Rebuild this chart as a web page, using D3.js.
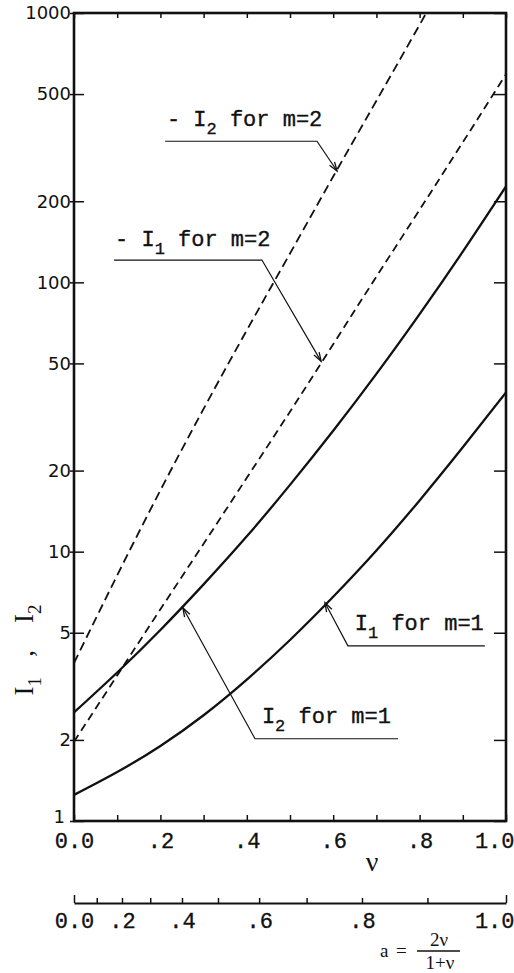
<!DOCTYPE html>
<html><head><meta charset="utf-8">
<script src="https://cdn.jsdelivr.net/npm/d3@7"></script>
<style>html,body{margin:0;padding:0;background:#fff;} svg{display:block} text{white-space:pre}</style>
</head><body>
<svg id="chart" width="514" height="973"></svg>
<script>
// ---- data ----
const nu = [0, 0.1, 0.2, 0.3, 0.4, 0.5, 0.6, 0.7, 0.8, 0.9, 1.0];
const I1_m1 = [1.25, 1.52, 1.90, 2.47, 3.35, 4.70, 6.80, 10.1, 15.5, 24.4, 39];
const I2_m1 = [2.53, 3.56, 5.12, 7.56, 11.4, 17.7, 28.1, 45.7, 76.2, 130, 227];
const negI1_m2 = [1.97, 3.47, 6.11, 10.7, 18.8, 33.1, 58.9, 105, 186, 331, 593];
const nu_negI2_m2 = [0, 0.1, 0.2, 0.3, 0.4, 0.5, 0.6, 0.7, 0.8, 0.815];
const negI2_m2 = [3.86, 8.17, 16.9, 33.9, 66.4, 128, 247, 472, 904, 1000];

const yTicks = [1, 2, 5, 10, 20, 50, 100, 200, 500, 1000];
const xTicks = [0, 0.1, 0.2, 0.3, 0.4, 0.5, 0.6, 0.7, 0.8, 0.9, 1.0];
const xLabelVals = [0, 0.2, 0.4, 0.6, 0.8, 1.0];
const xTickLabels = ["0.0", ".2", ".4", ".6", ".8", "1.0"];
const aTicks = [0, 0.1, 0.2, 0.3, 0.4, 0.5, 0.6, 0.7, 0.8, 0.9, 1.0];
const aLabelVals = [0, 0.2, 0.4, 0.6, 0.8, 1.0];
const aTickLabels = ["0.0", ".2", ".4", ".6", ".8", "1.0"];

const annotations = [
  {pre: "- I", sub: "2", post: " for m=2", at: [0.215, 380], path: [[0.211, 334], [0.5625, 334], [0.609, 259]]},
  {pre: "- I", sub: "1", post: " for m=2", at: [0.095, 136], path: [[0.0926, 121], [0.435, 121], [0.572, 50.9]]},
  {pre: "I",   sub: "1", post: " for m=1", at: [0.650, 5.13], path: [[0.951, 4.47], [0.634, 4.47], [0.581, 6.46]]},
  {pre: "I",   sub: "2", post: " for m=1", at: [0.435, 2.31], path: [[0.75, 2.02], [0.419, 2.02], [0.252, 6.19]]}
];

// ---- layout ----
const L = 74, R = 506, T = 13, B = 821;
const MONO = "'Liberation Mono','DejaVu Sans Mono',monospace";
const SERIF = "'Liberation Serif','DejaVu Serif',serif";
const SANS = "'DejaVu Sans','Liberation Sans',sans-serif";
const INK = "#111";

const svg = d3.select("#chart");
svg.append("rect").attr("width", 514).attr("height", 973).attr("fill", "#fff");

const x = d3.scaleLinear().domain([0, 1]).range([L, R]);
const y = d3.scaleLog().domain([1, 1000]).range([B, T]);

svg.append("defs").append("clipPath").attr("id", "plotclip")
  .append("rect").attr("x", L).attr("y", T).attr("width", R - L).attr("height", B - T);
const mk = svg.select("defs").append("marker")
  .attr("id", "arrow").attr("viewBox", "-10 -5 12 10")
  .attr("refX", 0).attr("refY", 0).attr("markerWidth", 12).attr("markerHeight", 10)
  .attr("markerUnits", "userSpaceOnUse").attr("orient", "auto");
mk.append("path").attr("d", "M-9,-3 L0,0 L-9,3").attr("fill", "none").attr("stroke", INK).attr("stroke-width", 1.3);

function typeText(sel, size) {
  sel.attr("font-family", MONO).attr("font-size", size).attr("fill", INK)
     .attr("stroke", INK).attr("stroke-width", 0.35);
}

// ---- axes ----
const gBottom = svg.append("g").attr("transform", `translate(0,${B})`)
  .call(d3.axisBottom(x).tickValues(xTicks).tickSizeInner(-6).tickSizeOuter(0)
    .tickFormat(v => { const i = xLabelVals.findIndex(t => Math.abs(t - v) < 1e-9); return i >= 0 ? xTickLabels[i] : ""; }));
gBottom.selectAll("text").attr("y", 27).attr("dy", 0);

const gTop = svg.append("g").attr("transform", `translate(0,${T})`)
  .call(d3.axisTop(x).tickValues(xTicks).tickSizeInner(-5).tickSizeOuter(0).tickFormat(""));

const gLeft = svg.append("g").attr("transform", `translate(${L},0)`)
  .call(d3.axisLeft(y).tickValues(yTicks).tickSizeInner(-10).tickSizeOuter(0).tickPadding(4).tickFormat(d3.format("d")));
gLeft.selectAll(".tick line").attr("x1", -4);

const gRight = svg.append("g").attr("transform", `translate(${R},0)`)
  .call(d3.axisRight(y).tickValues(yTicks).tickSizeInner(-12).tickSizeOuter(0).tickFormat(""));

[gBottom, gTop, gLeft, gRight].forEach(g => {
  g.select(".domain").remove();
  g.selectAll(".tick line").attr("stroke", INK).attr("stroke-width", 1.5);
});
typeText(gBottom.selectAll("text"), 22);
gBottom.selectAll(".tick text").filter(v => v === 1).attr("text-anchor", "end").attr("dx", 8);
gLeft.selectAll("text").attr("font-family", SANS).attr("font-size", 18).attr("fill", INK).attr("x", -3);
gLeft.selectAll(".tick text").filter(v => v === 1).attr("x", -9).attr("dy", "0.1em");

// frame
svg.append("rect").attr("x", L).attr("y", T).attr("width", R - L).attr("height", B - T)
  .attr("fill", "none").attr("stroke", INK).attr("stroke-width", 2.6);

// ---- curves ----
const line = d3.line().x(d => x(d[0])).y(d => y(d[1])).curve(d3.curveNatural);
const plot = svg.append("g").attr("clip-path", "url(#plotclip)");
const series = [
  {xs: nu, ys: I1_m1, dash: null},
  {xs: nu, ys: I2_m1, dash: null},
  {xs: nu, ys: negI1_m2, dash: "8,5"},
  {xs: nu_negI2_m2, ys: negI2_m2, dash: "9,5"}
];
series.forEach(s => {
  plot.append("path").datum(s.xs.map((v, i) => [v, s.ys[i]]))
    .attr("d", line).attr("fill", "none").attr("stroke", INK)
    .attr("stroke-width", s.dash ? 1.8 : 2.3)
    .attr("stroke-dasharray", s.dash);
});

// ---- annotations ----
annotations.forEach(a => {
  const p = a.path.map(d => [x(d[0]), y(d[1])]);
  svg.append("path").attr("d", d3.line()(p)).attr("fill", "none")
    .attr("stroke", INK).attr("stroke-width", 1.2).attr("marker-end", "url(#arrow)");
  const t = svg.append("text").attr("x", x(a.at[0])).attr("y", y(a.at[1]));
  typeText(t, 22);
  t.append("tspan").text(a.pre);
  t.append("tspan").attr("dy", 8).attr("font-size", 17).text(a.sub);
  t.append("tspan").attr("dy", -8).text(a.post);
});

// ---- axis titles ----
const yl = svg.append("text").attr("transform", "translate(33,650) rotate(-90)")
  .attr("text-anchor", "middle").attr("font-family", SERIF).attr("font-size", 27).attr("fill", INK);
yl.append("tspan").text("I");
yl.append("tspan").attr("dy", 8).attr("font-size", 19).text("1");
yl.append("tspan").attr("dy", -8).text("   ,    I");
yl.append("tspan").attr("dy", 8).attr("font-size", 19).text("2");

svg.append("text").attr("x", 372).attr("y", 871).attr("text-anchor", "middle")
  .attr("font-family", SERIF).attr("font-size", 28).attr("fill", INK).text("ν");

// ---- second axis: a = 2ν/(1+ν) ----
const nuOfA = a => a / (2 - a);
const aOfNu = v => 2 * v / (1 + v);
const gA = svg.append("g").attr("transform", "translate(0,903)")
  .call(d3.axisBottom(x).tickValues(aTicks.map(nuOfA)).tickSizeInner(-5).tickSizeOuter(0)
    .tickFormat(v => { const a = aOfNu(v); const i = aLabelVals.findIndex(t => Math.abs(t - a) < 1e-6); return i >= 0 ? aTickLabels[i] : ""; }));
gA.select(".domain").attr("stroke", INK).attr("stroke-width", 2.2);
gA.selectAll(".tick line").attr("stroke", INK).attr("stroke-width", 1.5);
gA.selectAll(".tick line").filter(v => v === 0 || v === 1).attr("y2", -8);
gA.selectAll("text").attr("y", 25).attr("dy", 0);
typeText(gA.selectAll("text"), 22);
gA.selectAll(".tick text").filter(v => v === 1).attr("text-anchor", "end").attr("dx", 8);

// formula label
const fx = 380, FS = 19;
svg.append("text").attr("x", fx).attr("y", 957).attr("font-family", SERIF).attr("font-size", FS).attr("fill", INK).text("a");
svg.append("text").attr("x", fx + 16).attr("y", 957).attr("font-family", SERIF).attr("font-size", FS).attr("fill", INK).text("=");
svg.append("line").attr("x1", fx + 37).attr("x2", fx + 80).attr("y1", 951).attr("y2", 951).attr("stroke", INK).attr("stroke-width", 1.3);
svg.append("text").attr("x", fx + 59).attr("y", 946).attr("text-anchor", "middle").attr("font-family", SERIF).attr("font-size", FS).attr("fill", INK).text("2ν");
svg.append("text").attr("x", fx + 60).attr("y", 969).attr("text-anchor", "middle").attr("font-family", SERIF).attr("font-size", FS).attr("fill", INK).text("1+ν");
</script>
</body></html>
